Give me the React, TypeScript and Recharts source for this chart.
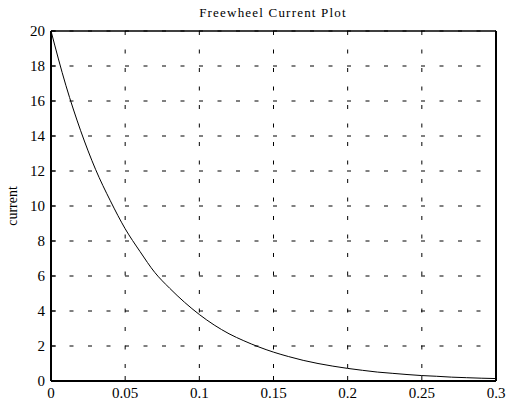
import React from 'react';
import { LineChart, Line, XAxis, YAxis, CartesianGrid, ReferenceLine } from 'recharts';

// time (s) and freewheel current values
const times = [
  0, 0.01, 0.02, 0.03, 0.04, 0.05, 0.06, 0.07, 0.08, 0.09, 0.1,
  0.11, 0.12, 0.13, 0.14, 0.15, 0.16, 0.17, 0.18, 0.19, 0.2,
  0.21, 0.22, 0.23, 0.24, 0.25, 0.26, 0.27, 0.28, 0.29, 0.3,
];
const current = [
  20, 16.9, 14.3, 12.1, 10.3, 8.7, 7.4, 6.2, 5.3, 4.5, 3.8,
  3.2, 2.7, 2.3, 1.95, 1.65, 1.4, 1.18, 1.0, 0.85, 0.72,
  0.61, 0.51, 0.44, 0.37, 0.31, 0.27, 0.22, 0.19, 0.16, 0.14,
];
const xTicks = [0, 0.05, 0.1, 0.15, 0.2, 0.25, 0.3];
const yTicks = [0, 2, 4, 6, 8, 10, 12, 14, 16, 18, 20];

const data = times.map((t, i) => ({ t, current: current[i] }));

const FONT = '"Liberation Serif", "Times New Roman", serif';
const tickStyle = { fontFamily: FONT, fontSize: 15, fill: '#000' };

export default function App() {
  return (
    <div style={{ position: 'absolute', left: 0, top: 0, width: 506, height: 405, background: '#fff' }}>
      <LineChart width={506} height={405} data={data} margin={{ top: 31, right: 10, left: 0, bottom: 0 }}>
        <CartesianGrid stroke="#000" strokeDasharray="4 14.5" strokeWidth={1} />
        <XAxis
          dataKey="t"
          type="number"
          domain={[0, 0.3]}
          ticks={xTicks}
          height={24}
          tick={tickStyle}
          tickFormatter={(v: number) => String(v)}
          axisLine={{ stroke: '#000', strokeWidth: 2 }}
          tickLine={{ stroke: '#000' }}
          tickSize={-5}
          tickMargin={11}
          interval={0}
        />
        <YAxis
          type="number"
          domain={[0, 20]}
          ticks={yTicks}
          width={51}
          tick={tickStyle}
          axisLine={{ stroke: '#000', strokeWidth: 2 }}
          tickLine={{ stroke: '#000' }}
          tickSize={-5}
          tickMargin={11}
          interval={0}
        />
        <ReferenceLine y={20} stroke="#000" strokeWidth={1.5} />
        <ReferenceLine x={0.3} stroke="#000" strokeWidth={2} />
        <Line
          type="monotone"
          dataKey="current"
          stroke="#000"
          strokeWidth={1}
          dot={false}
          isAnimationActive={false}
        />
        <text
          x={273}
          y={17}
          textAnchor="middle"
          style={{ fontFamily: FONT, fontSize: 13, fill: '#000', letterSpacing: 1.2 }}
        >
          Freewheel Current Plot
        </text>
        <text
          x={17}
          y={206}
          textAnchor="middle"
          transform="rotate(-90, 17, 206)"
          style={{ fontFamily: FONT, fontSize: 14, fill: '#000' }}
        >
          current
        </text>
      </LineChart>
    </div>
  );
}
